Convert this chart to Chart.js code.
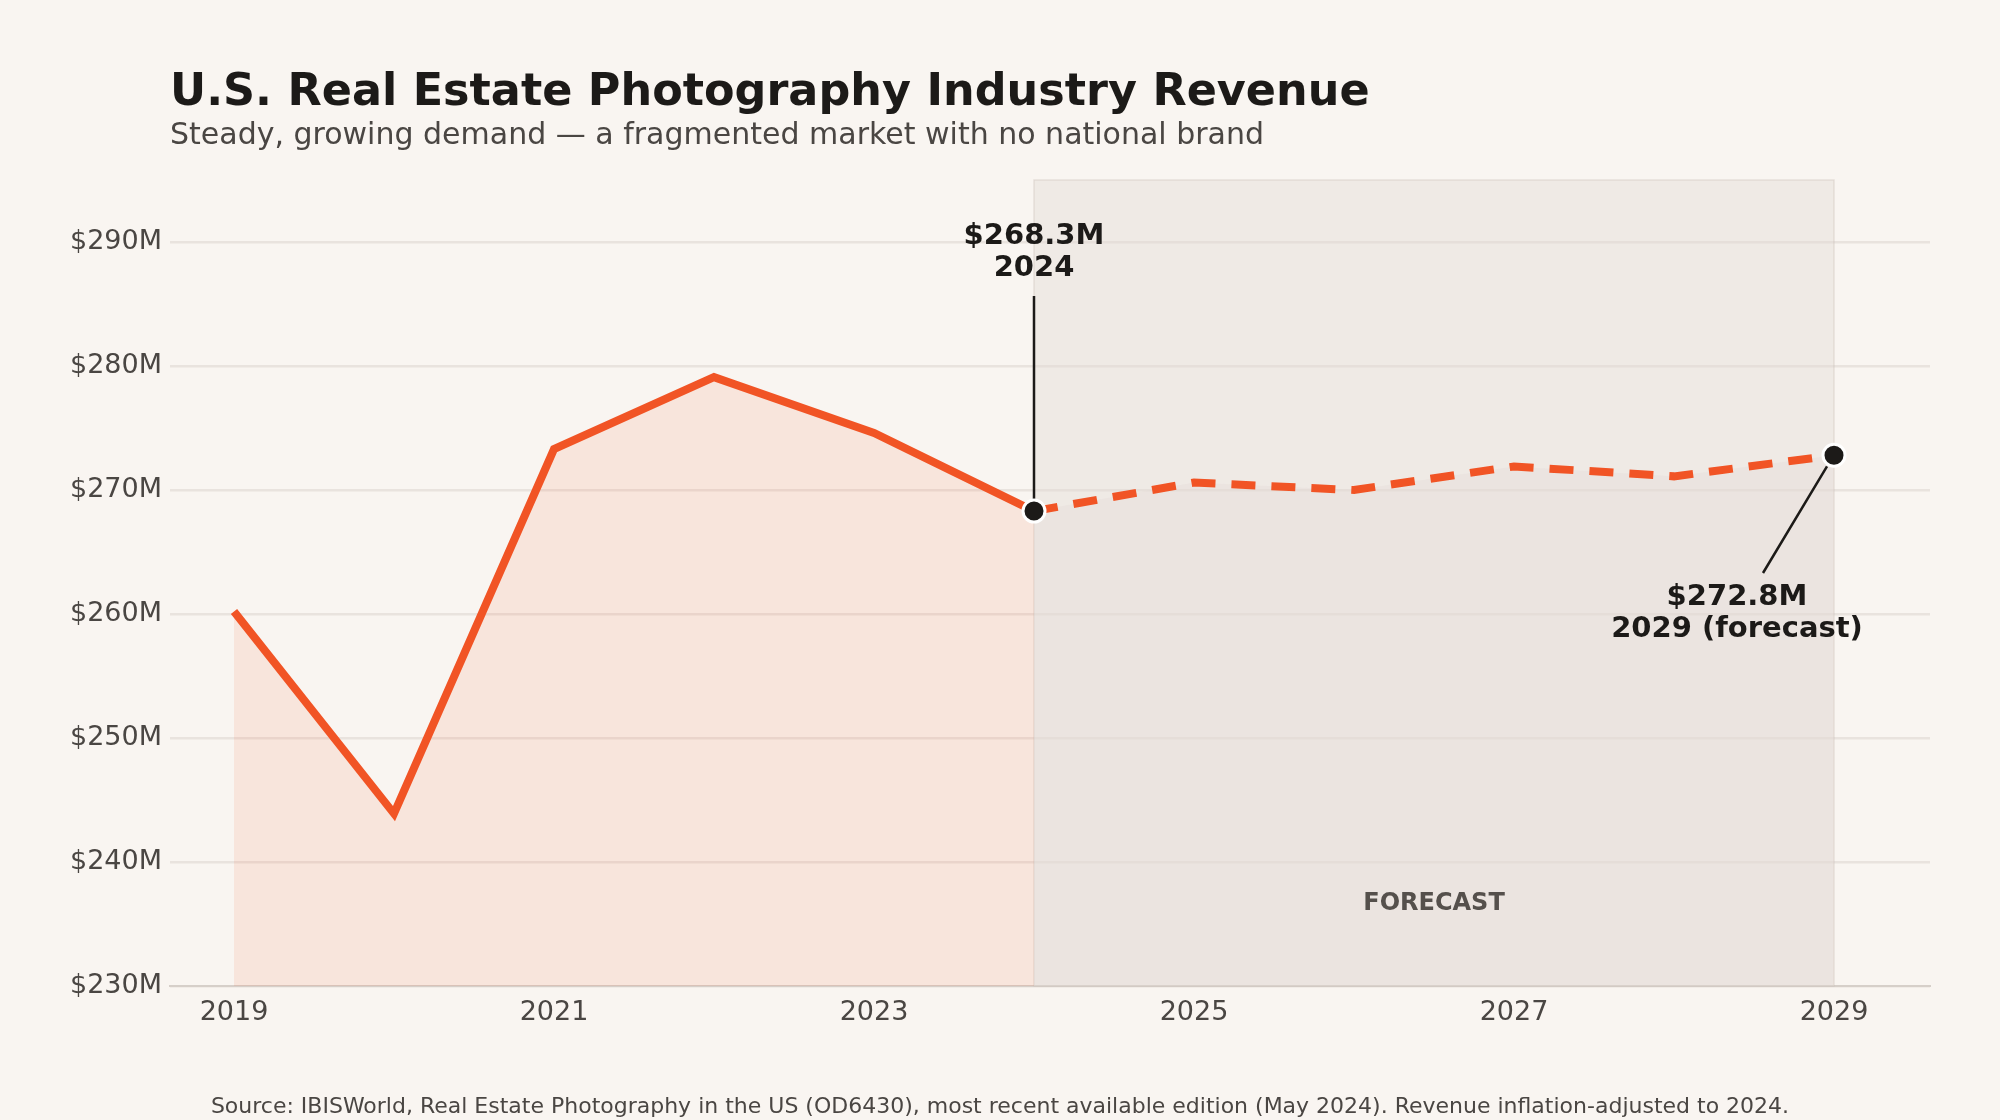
<!DOCTYPE html>
<html><head><meta charset="utf-8">
<script src="https://cdn.jsdelivr.net/npm/chart.js@4"></script>
<style>
body{margin:0;background:#f9f5f1;font-family:"DejaVu Sans",sans-serif;}
#wrap{position:relative;width:2000px;height:1120px;}
#t{position:absolute;left:170px;top:64px;font-size:44.5px;font-weight:bold;color:#1c1a18;}
#s{position:absolute;left:170px;top:116px;font-size:30px;color:#4a4643;}
#src{position:absolute;left:0;width:2000px;top:1093px;text-align:center;font-size:22px;color:#4a4643;}
canvas{position:absolute;left:0;top:0;}
</style></head><body>
<div id="wrap">
<canvas id="c" width="2000" height="1120"></canvas>
<div id="t">U.S. Real Estate Photography Industry Revenue</div>
<div id="s">Steady, growing demand — a fragmented market with no national brand</div>
<div id="src">Source: IBISWorld, Real Estate Photography in the US (OD6430), most recent available edition (May 2024). Revenue inflation-adjusted to 2024.</div>
</div>
<script>
// values in $M
var histYears = [2019, 2020, 2021, 2022, 2023, 2024];
var histRevenue = [260.2, 243.9, 273.3, 279.1, 274.6, 268.3];
var fcYears = [2024, 2025, 2026, 2027, 2028, 2029];
var fcRevenue = [268.3, 270.6, 270.0, 271.9, 271.1, 272.8];
var xTicks = [2019, 2021, 2023, 2025, 2027, 2029];
var yTicks = [230, 240, 250, 260, 270, 280, 290];

var orange = "#f15425";

function pts(xs, ys) {
    return xs.map(function (x, i) { return {x: x, y: ys[i]}; });
}

var extras = {
    id: "extras",
    beforeDatasetsDraw: function (chart) {
        var c = chart.ctx, xs = chart.scales.x, ys = chart.scales.y;
        var x0 = xs.getPixelForValue(2024), x1 = xs.getPixelForValue(2029);
        c.save();
        c.fillStyle = "rgba(225,218,212,0.4)";
        c.strokeStyle = "rgba(200,190,182,0.4)";
        c.lineWidth = 1.5;
        c.fillRect(x0, chart.chartArea.top, x1 - x0, chart.chartArea.bottom - chart.chartArea.top);
        c.strokeRect(x0, chart.chartArea.top, x1 - x0, chart.chartArea.bottom - chart.chartArea.top);
        c.restore();
    },
    afterDatasetsDraw: function (chart) {
        var c = chart.ctx, xs = chart.scales.x, ys = chart.scales.y;
        var px = xs.getPixelForValue(2024), py = ys.getPixelForValue(268.3);
        var qx = xs.getPixelForValue(2029), qy = ys.getPixelForValue(272.8);
        c.save();
        c.fillStyle = "#55504c";
        c.font = "bold 24px 'DejaVu Sans'";
        c.textAlign = "center";
        c.textBaseline = "middle";
        c.fillText("FORECAST", xs.getPixelForValue(2026.5), ys.getPixelForValue(236.6));
        c.strokeStyle = "#1c1a18";
        c.lineWidth = 2.5;
        c.beginPath();
        c.moveTo(px, 296); c.lineTo(px, py - 10);
        c.moveTo(qx - 71, 573); c.lineTo(qx - 7, qy + 11);
        c.stroke();
        [[px, py], [qx, qy]].forEach(function (p) {
            c.beginPath();
            c.arc(p[0], p[1], 11, 0, Math.PI * 2);
            c.fillStyle = "#1c1a18";
            c.fill();
            c.strokeStyle = "#ffffff";
            c.lineWidth = 3;
            c.stroke();
        });
        c.fillStyle = "#1c1a18";
        c.font = "bold 29px 'DejaVu Sans'";
        c.fillText("$268.3M", px, 236);
        c.fillText("2024", px, 268);
        c.fillText("$272.8M", qx - 97, 597);
        c.fillText("2029 (forecast)", qx - 97, 629);
        c.restore();
    }
};

new Chart(document.getElementById("c"), {
    type: "line",
    data: {
        datasets: [
            {
                data: pts(histYears, histRevenue),
                borderColor: orange,
                borderWidth: 8,
                backgroundColor: "rgba(241,84,37,0.1)",
                fill: "origin",
                tension: 0,
                pointRadius: 0
            },
            {
                data: pts(fcYears, fcRevenue),
                borderColor: orange,
                borderWidth: 8,
                borderDash: [24, 16],
                backgroundColor: "rgba(225,218,212,0.35)",
                fill: "origin",
                tension: 0,
                pointRadius: 0
            }
        ]
    },
    options: {
        responsive: false,
        animation: false,
        layout: {padding: {left: 60, right: 70, top: 180, bottom: 89}},
        plugins: {legend: {display: false}, tooltip: {enabled: false}},
        scales: {
            x: {
                type: "linear",
                min: 2018.6,
                max: 2029.6,
                afterBuildTicks: function (a) { a.ticks = xTicks.map(function (v) { return {value: v}; }); },
                afterFit: function (a) { a.height = 45; },
                ticks: {color: "#4a4643", font: {size: 27, family: "DejaVu Sans"}, callback: function (v) { return String(v); }},
                grid: {display: false},
                border: {color: "#d6cfc9", width: 2}
            },
            y: {
                min: 230,
                max: 295,
                afterBuildTicks: function (a) { a.ticks = yTicks.map(function (v) { return {value: v}; }); },
                afterFit: function (a) { a.width = 110; },
                ticks: {color: "#4a4643", font: {size: 27, family: "DejaVu Sans"}, padding: 8, callback: function (v) { return "$" + v + "M"; }},
                grid: {color: "#e9e3de", lineWidth: 2.5, drawTicks: false},
                border: {display: false}
            }
        }
    },
    plugins: [extras]
});
</script>
</body></html>
